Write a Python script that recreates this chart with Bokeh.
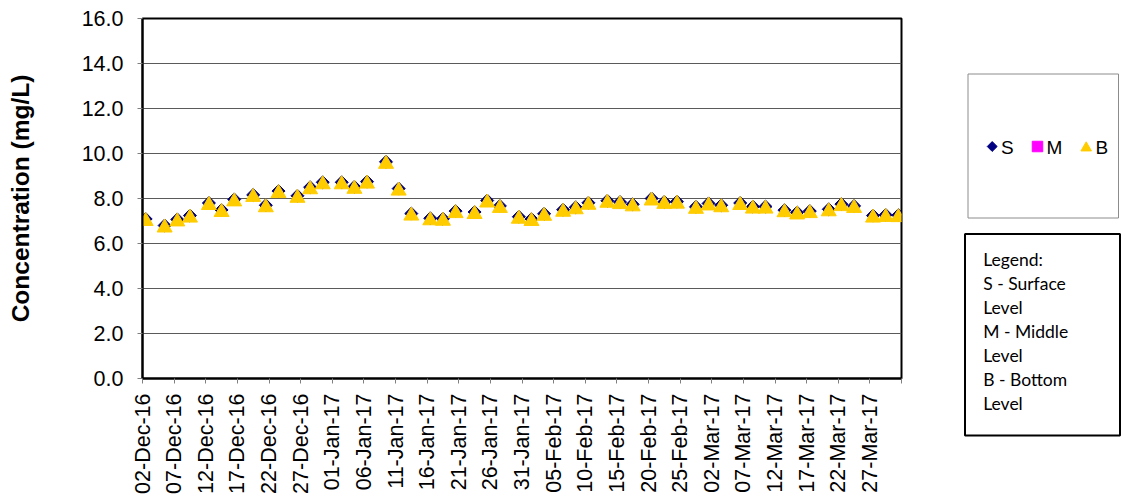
import numpy as np
import pandas as pd
from bokeh.plotting import figure
from bokeh.models import Range1d, FixedTicker, PrintfTickFormatter, ColumnDataSource
from bokeh.layouts import row
from bokeh.embed import file_html
from bokeh.resources import INLINE
from bokeh.core.properties import value
from bokeh.transform import dodge

# ---------------- data ----------------
sample_dates = [
    "2016-12-02", "2016-12-05", "2016-12-07", "2016-12-09", "2016-12-12", "2016-12-14",
    "2016-12-16", "2016-12-19", "2016-12-21", "2016-12-23", "2016-12-26", "2016-12-28",
    "2016-12-30", "2017-01-02", "2017-01-04", "2017-01-06", "2017-01-09", "2017-01-11",
    "2017-01-13", "2017-01-16", "2017-01-18", "2017-01-20", "2017-01-23", "2017-01-25",
    "2017-01-27", "2017-01-30", "2017-02-01", "2017-02-03", "2017-02-06", "2017-02-08",
    "2017-02-10", "2017-02-13", "2017-02-15", "2017-02-17", "2017-02-20", "2017-02-22",
    "2017-02-24", "2017-02-27", "2017-03-01", "2017-03-03", "2017-03-06", "2017-03-08",
    "2017-03-10", "2017-03-13", "2017-03-15", "2017-03-17", "2017-03-20", "2017-03-22",
    "2017-03-24", "2017-03-27", "2017-03-29", "2017-03-31",
]
surface = [
    7.09, 6.80, 7.07, 7.24, 7.80, 7.49, 7.96, 8.16, 7.70, 8.33, 8.12, 8.50,
    8.72, 8.72, 8.52, 8.75, 9.63, 8.44, 7.33, 7.12, 7.10, 7.44, 7.40, 7.91,
    7.67, 7.19, 7.09, 7.32, 7.50, 7.61, 7.81, 7.90, 7.84, 7.74, 8.00, 7.85,
    7.86, 7.63, 7.78, 7.70, 7.80, 7.64, 7.64, 7.48, 7.38, 7.44, 7.52, 7.75,
    7.67, 7.24, 7.27, 7.26,
]
middle_dates = []
middle = []
bottom = [
    7.09, 6.80, 7.07, 7.24, 7.80, 7.49, 7.96, 8.16, 7.70, 8.33, 8.12, 8.50,
    8.72, 8.72, 8.52, 8.75, 9.63, 8.44, 7.33, 7.12, 7.10, 7.44, 7.40, 7.91,
    7.67, 7.19, 7.09, 7.32, 7.50, 7.61, 7.81, 7.90, 7.84, 7.74, 8.00, 7.85,
    7.86, 7.63, 7.78, 7.70, 7.80, 7.64, 7.64, 7.48, 7.38, 7.44, 7.52, 7.75,
    7.67, 7.24, 7.27, 7.26,
]
axis_start = "2016-12-02"
axis_end = "2017-04-01"
tick_labels = [
    "02-Dec-16", "07-Dec-16", "12-Dec-16", "17-Dec-16", "22-Dec-16", "27-Dec-16",
    "01-Jan-17", "06-Jan-17", "11-Jan-17", "16-Jan-17", "21-Jan-17", "26-Jan-17",
    "31-Jan-17", "05-Feb-17", "10-Feb-17", "15-Feb-17", "20-Feb-17", "25-Feb-17",
    "02-Mar-17", "07-Mar-17", "12-Mar-17", "17-Mar-17", "22-Mar-17", "27-Mar-17",
]
y_ticks = [0, 2, 4, 6, 8, 10, 12, 14, 16]
legend_lines = ["Legend:", "S - Surface", "Level", "M - Middle", "Level", "B - Bottom", "Level"]

# ---------------- derived positions (days since axis start) ----------------
t0 = pd.Timestamp(axis_start)
t_end = (pd.Timestamp(axis_end) - t0).days
x_samples = [(pd.Timestamp(d) - t0).days + 0.5 for d in sample_dates]
x_middle = [(pd.Timestamp(d) - t0).days + 0.5 for d in middle_dates]
tick_pos = [(pd.to_datetime(s, format="%d-%b-%y") - t0).days for s in tick_labels]
overrides = {int(tp): lab for tp, lab in zip(tick_pos, tick_labels)}
overrides[int(t_end)] = ""

FONT = "Liberation Sans"
MAIN_W = 142 + 759 + 20
H = 500

p = figure(
    width=MAIN_W, height=H,
    min_border_left=142, min_border_right=20, min_border_top=18, min_border_bottom=122,
    x_range=Range1d(0, t_end), y_range=Range1d(0, 16),
    output_backend="svg", toolbar_location=None, align="start",
)
p.background_fill_color = "white"
p.border_fill_color = "white"
p.outline_line_color = "black"
p.outline_line_width = 2

p.xgrid.grid_line_color = None
p.ygrid.grid_line_color = "#5a5a5a"
p.ygrid.grid_line_width = 1
p.ygrid.ticker = FixedTicker(ticks=y_ticks)

# y axis
p.yaxis.ticker = FixedTicker(ticks=y_ticks)
p.yaxis.formatter = PrintfTickFormatter(format="%.1f")
p.yaxis.axis_label = "Concentration (mg/L)"
p.yaxis.axis_label_text_font = FONT
p.yaxis.axis_label_text_font_size = "24.5px"
p.yaxis.axis_label_text_font_style = "bold"
p.yaxis.axis_label_text_color = "black"
p.yaxis.axis_label_standoff = 45
p.yaxis.major_label_text_font = FONT
p.yaxis.major_label_text_font_size = "21.5px"
p.yaxis.major_label_text_color = "black"
p.yaxis.major_label_standoff = 14
p.yaxis.axis_line_color = "black"
p.yaxis.axis_line_width = 2
p.yaxis.major_tick_line_color = "#808080"
p.yaxis.major_tick_in = 0
p.yaxis.major_tick_out = 5
p.yaxis.minor_tick_line_color = None

# x axis
p.xaxis.ticker = FixedTicker(ticks=list(overrides.keys()))
p.xaxis.major_label_overrides = overrides
p.xaxis.major_label_orientation = np.pi / 2
p.xaxis.major_label_text_font = FONT
p.xaxis.major_label_text_font_size = "21.5px"
p.xaxis.major_label_text_color = "black"
p.xaxis.major_label_standoff = 10
p.xaxis.axis_line_color = "black"
p.xaxis.axis_line_width = 2
p.xaxis.major_tick_line_color = "#808080"
p.xaxis.major_tick_in = 0
p.xaxis.major_tick_out = 5
p.xaxis.minor_tick_line_color = None

src_s = ColumnDataSource(dict(x=x_samples, y=surface))
src_m = ColumnDataSource(dict(x=x_middle, y=middle))
src_b = ColumnDataSource(dict(x=x_samples, y=bottom))

p.scatter("x", "y", source=src_s, marker="square", angle=np.pi / 4, size=9.2,
          fill_color="#000080", line_color="#000080")
p.scatter("x", "y", source=src_m, marker="square", size=10,
          fill_color="#FF00FF", line_color="#FF00FF")
p.scatter("x", dodge("y", -0.096, range=p.y_range), source=src_b, marker="triangle", size=15,
          fill_color="#FFCC00", line_color="#FFCC00")

# ---------------- legend panel (page pixel coordinates) ----------------
L0 = MAIN_W
R0 = 1122
p2 = figure(
    width=R0 - L0, height=H, title_location=None,
    min_border=0, min_border_left=0, min_border_right=0, min_border_top=0, min_border_bottom=0,
    x_range=Range1d(L0, R0), y_range=Range1d(H, 0),
    output_backend="svg", toolbar_location=None, align="start",
)
for fig in (p, p2):
    try:
        fig.frame_align = False
    except Exception:
        pass
p2.axis.visible = False
p2.grid.visible = False
p2.outline_line_color = None
p2.background_fill_color = "white"
p2.border_fill_color = "white"

# key box
p2.quad(left=[967.5], right=[1118], top=[73.5], bottom=[217.5],
        fill_color=None, line_color="#8c8c8c", line_width=1)
p2.scatter([991.7], [146], marker="square", angle=np.pi / 4, size=7,
           fill_color="#000080", line_color="#000080")
p2.scatter([1037], [146], marker="square", size=10.5,
           fill_color="#FF00FF", line_color="#FF00FF")
p2.scatter([1085.7], [147.4], marker="triangle", size=10.5,
           fill_color="#FFCC00", line_color="#FFCC00")
p2.text(x=[1000.5, 1046, 1095], y=[146.5, 146.5, 146.5], text=["S", "M", "B"],
        text_font=value(FONT), text_font_size="19px", text_color="black",
        text_baseline="middle", text_align="left")

# explanation box
p2.quad(left=[964.5], right=[1119.5], top=[233.5], bottom=[435],
        fill_color=None, line_color="black", line_width=2)
p2.text(x=[982.7] * len(legend_lines),
        y=[258.5 + 24.0 * i for i in range(len(legend_lines))],
        text=legend_lines,
        text_font=value("Lato"), text_font_size="17.5px", text_color="black",
        text_baseline="middle", text_align="left")

layout = row(p, p2)
open("out.html", "w").write(file_html(layout, INLINE))
